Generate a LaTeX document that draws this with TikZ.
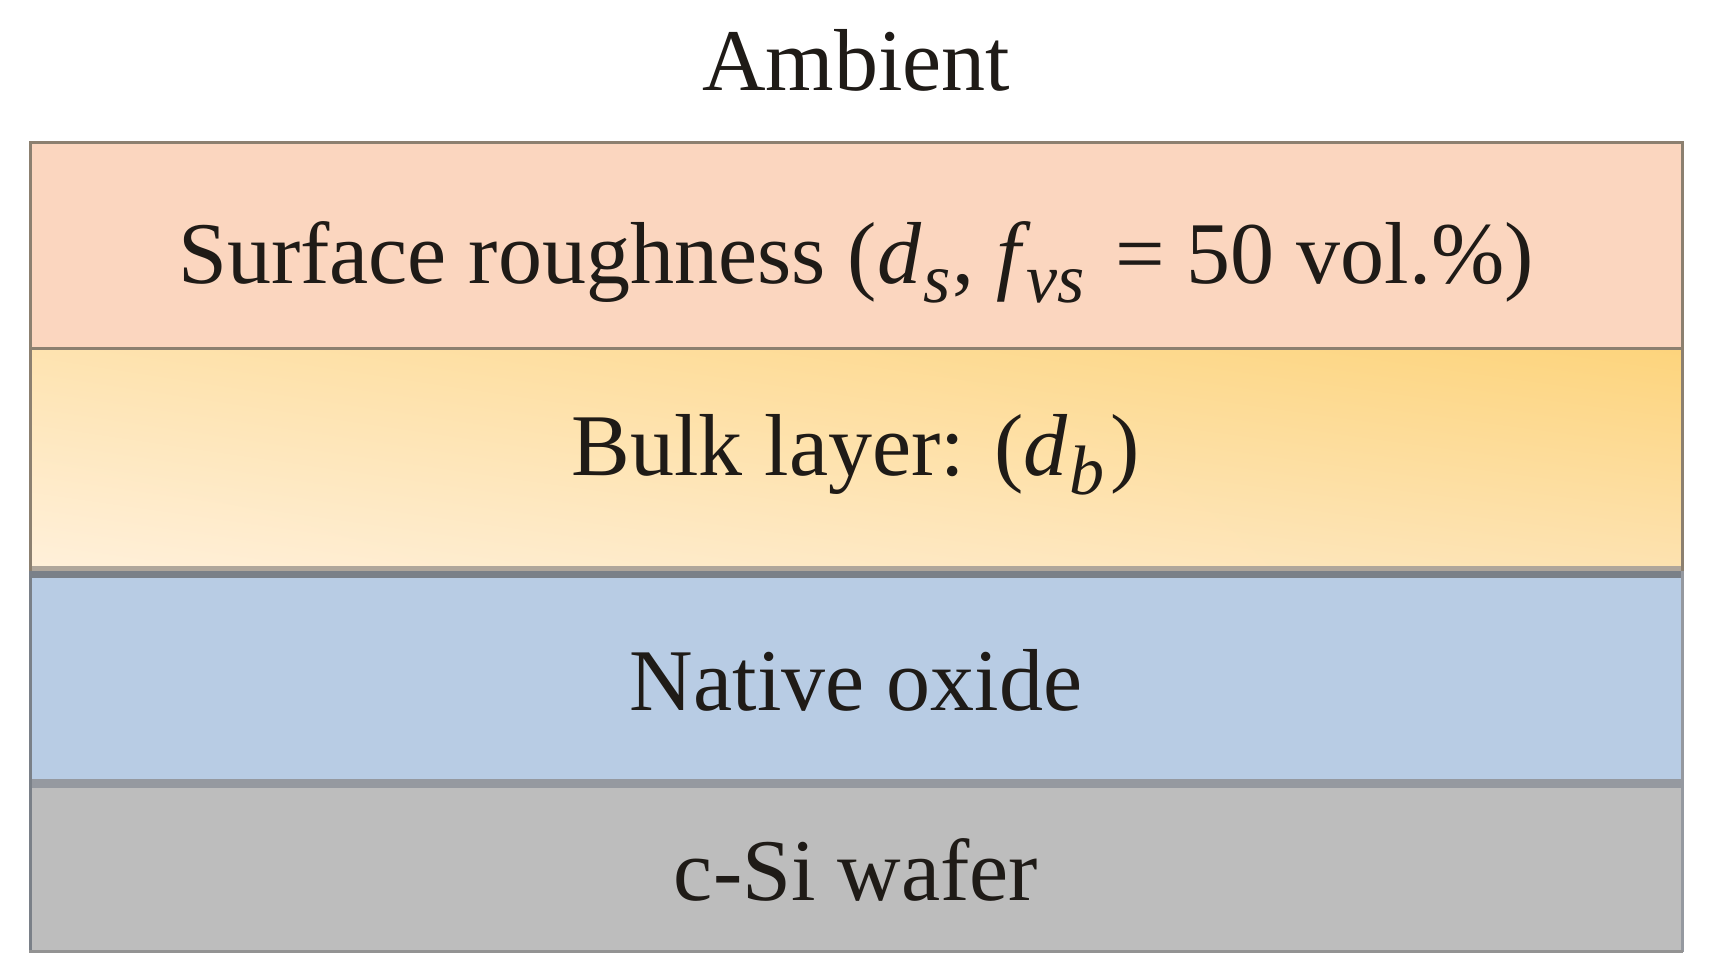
\documentclass[tikz,border=0pt]{standalone}
\usepackage{fontspec}
\usetikzlibrary{shadings}
\setmainfont{Liberation Serif}
\definecolor{surf}{HTML}{FBD6BF}
\definecolor{bulkA}{HTML}{FDD47C}
\definecolor{bulkB}{HTML}{FEE3B0}
\definecolor{bulkC}{HTML}{FFF0DA}
\definecolor{bulkD}{HTML}{FDE2B0}
\definecolor{oxide}{HTML}{B8CCE4}
\definecolor{wafer}{HTML}{BDBDBD}
\definecolor{edgeA}{HTML}{8C8070}
\definecolor{edgeB}{HTML}{7A8088}
\definecolor{ink}{HTML}{1F1B17}
\newcommand{\subtxt}[1]{\kern2pt\raisebox{-0.22em}{\fontsize{70}{70}\selectfont\itshape #1}\kern2pt}
\begin{document}
\begin{tikzpicture}[x=1pt,y=-1pt,
  lbl/.style={anchor=base,inner sep=0pt,text=ink,font=\fontsize{88}{100}\selectfont},
  edge/.style={line width=3pt}]
\useasboundingbox (0,0) rectangle (1709,978);
\fill[white] (0,0) rectangle (1709,978);
% layers
\fill[surf] (29,141) rectangle (1683,348);
\shade[upper right=bulkA,upper left=bulkB,lower left=bulkC,lower right=bulkD] (29,348) rectangle (1683,568);
\fill[oxide] (29,578) rectangle (1683,780);
\fill[wafer] (29,788) rectangle (1683,952);
% separators
\fill[color=edgeA!70] (29,566) rectangle (1683,571);
\fill[color=edgeB] (29,571) rectangle (1683,578);
\fill[color=edgeB!80!white] (29,779) rectangle (1683,788);
\draw[edge,color=edgeA] (29,142.5) -- (1683,142.5);
\draw[edge,color=edgeA] (29,348) -- (1683,348);
\draw[edge,color=edgeA] (30,141) -- (30,571);
\draw[edge,color=edgeA] (1682,141) -- (1682,571);
\draw[edge,color=edgeB] (30,571) -- (30,952);
\draw[edge,color=edgeB!80!white] (1682,571) -- (1682,952);
\draw[edge,color=gray!85] (29,951) -- (1683,951);
% labels
\node[lbl] (amb) at (856,90) {Ambient};
\node[lbl] (surfl) at (856,283) {Surface roughness ({\itshape d}\subtxt{s}, {\itshape f}\kern4pt\subtxt{vs}\kern6pt{} = 50 vol.\%)};
\node[lbl] (bulkl) at (856,475) {Bulk layer: ({\itshape d}\subtxt{b}\kern4pt)};
\node[lbl] (oxl) at (856,710) {Native oxide};
\node[lbl] (wafl) at (856,900) {c-Si wafer};
\end{tikzpicture}
\end{document}
